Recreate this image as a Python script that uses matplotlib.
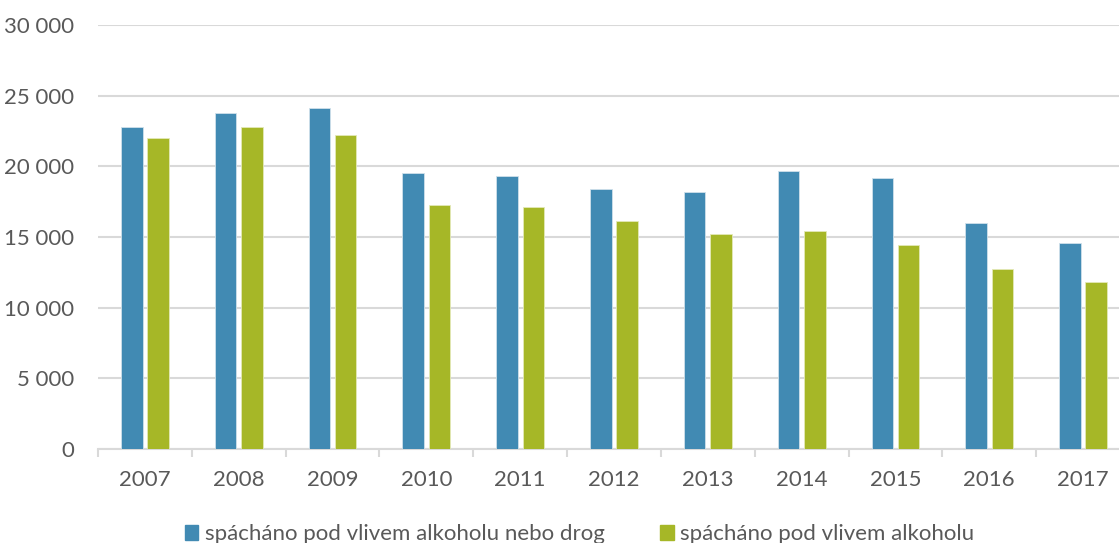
import numpy as np
import matplotlib.pyplot as plt
from matplotlib.ticker import FuncFormatter
from matplotlib.patches import Patch

plt.rcParams['font.family'] = ['Lato', 'DejaVu Sans']

# data
years = ['2007', '2008', '2009', '2010', '2011', '2012', '2013', '2014', '2015', '2016', '2017']
alcohol_or_drugs = [22800, 23800, 24150, 19550, 19300, 18400, 18150, 19700, 19150, 16000, 14580]
alcohol = [22000, 22800, 22250, 17250, 17150, 16100, 15200, 15450, 14450, 12750, 11800]
series_names = ['spácháno pod vlivem alkoholu nebo drog', 'spácháno pod vlivem alkoholu']

BLUE = '#418AB3'
GREEN = '#A6B727'
TEXT = '#595959'
GRID = '#D9D9D9'

W, H = 1119, 543
fig = plt.figure(figsize=(W / 100, H / 100), dpi=100)
ax = fig.add_axes([98 / W, (H - 449) / H, (1130 - 98) / W, (449 - 25) / H])

x = np.arange(len(years))
bw = 0.23
ax.bar(x - 0.14, alcohol_or_drugs, bw, color=BLUE, edgecolor='#cfe0ea', linewidth=0.6, zorder=3)
ax.bar(x + 0.14, alcohol, bw, color=GREEN, edgecolor='#e3e9b8', linewidth=0.6, zorder=3)

ax.set_xlim(-0.5, len(years) - 0.5)
ax.set_ylim(0, 30000)
ax.set_yticks(np.arange(0, 30001, 5000))
ax.yaxis.set_major_formatter(FuncFormatter(lambda v, p: '{:,}'.format(int(v)).replace(',', ' ')))
ax.grid(axis='y', color=GRID, linewidth=1.5, zorder=0)

# category boundary ticks on the x axis
ax.set_xticks(x)
ax.set_xticklabels(years)
ax.set_xticks(np.arange(-0.5, len(years), 1), minor=True)
ax.tick_params(axis='x', which='major', length=0, pad=15, labelsize=16, labelcolor=TEXT)
ax.tick_params(axis='x', which='minor', length=6, width=1.5, color=GRID)
ax.tick_params(axis='y', length=0, pad=17, labelsize=16, labelcolor=TEXT)

for s in ['top', 'right', 'left']:
    ax.spines[s].set_visible(False)
ax.spines['bottom'].set_color(GRID)
ax.spines['bottom'].set_linewidth(1.5)

handles = [Patch(color=BLUE), Patch(color=GREEN)]
fig.legend(handles, series_names, loc='center', bbox_to_anchor=(0.518, 0.016), ncol=2,
           frameon=False, fontsize=16, labelcolor=TEXT, handlelength=0.6, handleheight=0.6,
           handletextpad=0.3, columnspacing=2.5)

fig.savefig('out.png', dpi=100)
